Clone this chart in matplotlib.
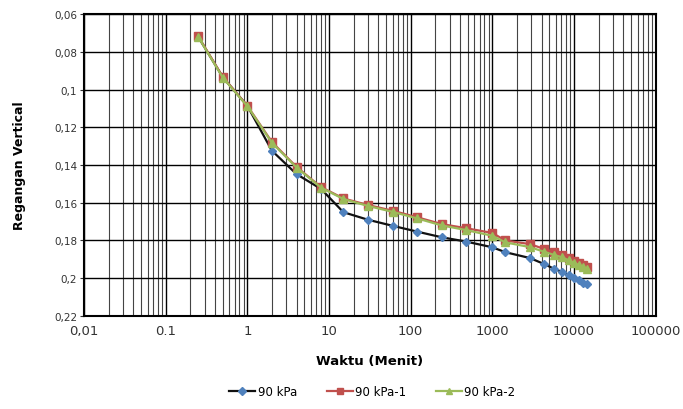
import matplotlib
matplotlib.use("Agg")
import matplotlib.pyplot as plt
from matplotlib.ticker import FixedLocator, LogLocator, NullFormatter

time_min = [0.25, 0.5, 1, 2, 4, 8, 15, 30, 60, 120, 240, 480, 1000, 1440, 2880,
            4320, 5760, 7200, 8640, 10080, 11520, 12960, 14400]
s90 = [0.072, 0.0934, 0.1086, 0.1324, 0.1448, 0.1527, 0.165, 0.169, 0.1722, 0.1753,
       0.1783, 0.1806, 0.1836, 0.1862, 0.1893, 0.1925, 0.1951, 0.1967, 0.1983,
       0.1999, 0.2012, 0.2023, 0.2033]
s90_1 = [0.0717, 0.0932, 0.1086, 0.1278, 0.141, 0.1517, 0.1577, 0.1612, 0.1642,
         0.1677, 0.1713, 0.1735, 0.176, 0.18, 0.1819, 0.1845, 0.1863, 0.1877,
         0.1893, 0.1909, 0.1919, 0.193, 0.194]
s90_2 = [0.072, 0.0936, 0.1088, 0.1282, 0.1413, 0.152, 0.158, 0.1617, 0.1648,
         0.1683, 0.172, 0.1745, 0.1775, 0.181, 0.1835, 0.186, 0.1877, 0.189,
         0.1905, 0.192, 0.193, 0.194, 0.1951]

yticks = [0.06, 0.08, 0.10, 0.12, 0.14, 0.16, 0.18, 0.20, 0.22]
ytick_labels = ["0,06", "0,08", "0,1", "0,12", "0,14", "0,16", "0,18", "0,2", "0,22"]
xticks = [0.01, 0.1, 1, 10, 100, 1000, 10000, 100000]
xtick_labels = ["0,01", "0.1", "1", "10", "100", "1000", "10000", "100000"]

fig = plt.figure(figsize=(6.83, 4.10), dpi=100)
ax = fig.add_axes([0.123, 0.227, 0.837, 0.736])

ax.plot(time_min, s90, color="#111111", lw=1.6, marker="D", ms=4.5,
        mfc="#4F81BD", mec="#4F81BD", label="90 kPa", zorder=3)
ax.plot(time_min, s90_1, color="#C0504D", lw=1.6, marker="s", ms=5.5,
        mfc="#C0504D", mec="#C0504D", label="90 kPa-1", zorder=4)
ax.plot(time_min, s90_2, color="#9BBB59", lw=1.6, marker="^", ms=5.5,
        mfc="#9BBB59", mec="#9BBB59", label="90 kPa-2", zorder=5)

ax.set_xscale("log")
ax.set_xlim(0.01, 100000)
ax.set_ylim(0.22, 0.06)
ax.xaxis.set_major_locator(FixedLocator(xticks))
ax.set_xticklabels(xtick_labels)
ax.xaxis.set_minor_locator(LogLocator(base=10, subs=range(2, 10), numticks=20))
ax.xaxis.set_minor_formatter(NullFormatter())
ax.set_yticks(yticks)
ax.set_yticklabels(ytick_labels)

ax.grid(True, which="major", color="#000000", lw=1.0)
ax.grid(True, which="minor", axis="x", color="#444444", lw=0.8)
ax.set_axisbelow(True)
for sp in ax.spines.values():
    sp.set_color("black")
    sp.set_linewidth(1.5)

ax.tick_params(axis="y", labelsize=7.5, colors="#333333", length=3, pad=2)
ax.tick_params(axis="x", labelsize=9.5, colors="#333333", length=0, pad=6)
ax.tick_params(axis="x", which="minor", length=0)

ax.set_xlabel("Waktu (Menit)", fontsize=9.5, fontweight="bold", labelpad=12)
ax.set_ylabel("Regangan Vertical", fontsize=9, fontweight="bold", labelpad=20)

fig.legend(loc="lower center", bbox_to_anchor=(0.545, 0.0), ncol=3, frameon=False,
           fontsize=8.5, handlelength=2.2, handletextpad=0.2, columnspacing=2.5,
           markerscale=0.8)

fig.savefig("out.png", dpi=100)
